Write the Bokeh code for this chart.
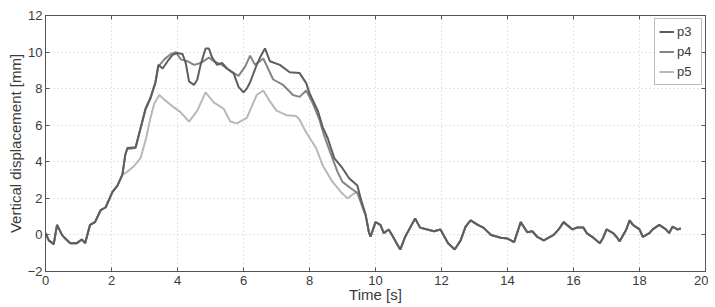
from bokeh.plotting import figure
from bokeh.models import LinearAxis, FixedTicker, Legend, LegendItem, CustomJSTickFormatter, Range1d
from bokeh.embed import file_html
from bokeh.resources import INLINE

# ---- data ----
head_t = [0.0, 0.1, 0.25, 0.35, 0.5, 0.6, 0.75, 0.95, 1.1, 1.2, 1.35, 1.5, 1.67, 1.82, 2.03, 2.18, 2.33]
head_v = [0.1, -0.3, -0.5, 0.55, 0.0, -0.2, -0.45, -0.45, -0.25, -0.45, 0.55, 0.7, 1.35, 1.5, 2.35, 2.7, 3.3]

tail_t = [9.8, 9.85, 10.0, 10.15, 10.25, 10.4, 10.5, 10.7, 10.75, 10.9, 11.05, 11.2, 11.35, 11.57, 11.77,
          11.97, 12.06, 12.2, 12.4, 12.58, 12.73, 12.88, 13.1, 13.27, 13.5, 13.8, 14.0, 14.2, 14.4, 14.6,
          14.75, 14.9, 15.1, 15.25, 15.4, 15.55, 15.7, 15.8, 15.97, 16.1, 16.3, 16.4, 16.6, 16.8, 16.9,
          17.0, 17.2, 17.3, 17.4, 17.6, 17.7, 17.8, 18.0, 18.1, 18.3, 18.4, 18.6, 18.8, 18.9, 19.0, 19.15, 19.25]
tail_v = [0.15, -0.1, 0.7, 0.55, 0.1, 0.3, 0.0, -0.65, -0.8, -0.1, 0.4, 0.9, 0.4, 0.3, 0.2,
          0.3, 0.0, -0.45, -0.8, -0.3, 0.45, 0.8, 0.55, 0.4, 0.0, -0.15, -0.2, -0.4, 0.7, 0.15,
          0.2, -0.1, -0.3, -0.15, 0.0, 0.3, 0.7, 0.55, 0.3, 0.4, 0.4, 0.1, -0.15, -0.45, -0.15,
          0.3, 0.1, -0.1, -0.35, 0.3, 0.8, 0.55, 0.3, -0.1, 0.1, 0.3, 0.55, 0.3, 0.1, 0.45, 0.3, 0.35]

p3_t = [2.42, 2.48, 2.73, 2.88, 3.03, 3.18, 3.33, 3.42, 3.55, 3.7, 3.85, 4.0, 4.15, 4.25, 4.35, 4.5, 4.6,
        4.7, 4.85, 4.95, 5.05, 5.2, 5.35, 5.5, 5.7, 5.85, 6.0, 6.1, 6.2, 6.4, 6.5, 6.65, 6.8, 7.1, 7.4,
        7.7, 7.9, 8.0, 8.25, 8.4, 8.55, 8.75, 9.0, 9.2, 9.45, 9.55, 9.7]
p3_v = [4.4, 4.75, 4.8, 5.85, 6.9, 7.5, 8.35, 9.3, 9.1, 9.5, 9.85, 9.95, 9.9, 9.4, 8.4, 8.2, 8.5,
        9.3, 10.2, 10.2, 9.7, 9.3, 9.4, 9.1, 8.85, 8.1, 7.8, 8.0, 8.35, 9.3, 9.7, 10.2, 9.5, 9.3, 8.9,
        8.85, 8.3, 7.75, 6.8, 5.9, 5.3, 4.2, 3.65, 3.1, 2.7, 2.0, 1.1]

p4_t = [2.42, 2.48, 2.73, 2.88, 3.03, 3.18, 3.33, 3.42, 3.6, 3.8, 3.95, 4.1, 4.3, 4.5, 4.7, 4.95, 5.1,
        5.35, 5.65, 5.85, 6.05, 6.2, 6.35, 6.6, 6.9, 7.2, 7.5, 7.7, 7.9, 8.1, 8.3, 8.45, 8.65, 8.85,
        9.0, 9.25, 9.45, 9.6, 9.7]
p4_v = [4.4, 4.7, 4.75, 5.8, 6.85, 7.45, 8.3, 9.2, 9.6, 9.9, 10.0, 9.6, 9.5, 9.3, 9.4, 9.7, 9.5,
        9.3, 8.9, 8.7, 9.2, 9.8, 9.3, 9.65, 8.5, 8.2, 7.65, 7.55, 7.9, 7.2, 6.3, 5.4, 4.4, 3.45,
        2.9, 2.55, 2.3, 1.6, 1.1]

p5_t = [2.48, 2.7, 2.88, 3.05, 3.18, 3.3, 3.45, 3.6, 3.8, 4.1, 4.35, 4.6, 4.85, 5.1, 5.4, 5.6, 5.8,
        6.1, 6.4, 6.6, 6.8, 7.0, 7.3, 7.6, 7.7, 7.9, 8.2, 8.4, 8.7, 8.95, 9.15, 9.3, 9.45, 9.6, 9.7]
p5_v = [3.45, 3.8, 4.2, 5.3, 6.4, 7.2, 7.65, 7.4, 7.1, 6.7, 6.2, 6.8, 7.8, 7.25, 6.9, 6.2, 6.1,
        6.4, 7.65, 7.9, 7.3, 6.8, 6.55, 6.5, 6.3, 5.6, 4.75, 3.8, 2.9, 2.35, 2.0, 2.2, 2.35, 1.5, 1.1]

series = ["p3", "p4", "p5"]
colors = ["#5e5e5e", "#858585", "#b8b8b8"]
x_ticks = [0, 2, 4, 6, 8, 10, 12, 14, 16, 18, 20]
y_ticks = [-2, 0, 2, 4, 6, 8, 10, 12]

FONT = "Liberation Sans"

p = figure(width=708, height=306, output_backend="svg", toolbar_location=None,
           x_range=Range1d(0, 20), y_range=Range1d(-2, 12),
           min_border_left=45, min_border_right=3, min_border_top=15, min_border_bottom=35)
p.background_fill_color = "white"
p.border_fill_color = "white"
p.outline_line_color = "#555555"
p.outline_line_width = 1

data = {
    "p3": (head_t + p3_t + tail_t, head_v + p3_v + tail_v),
    "p4": (head_t + p4_t + tail_t, head_v + p4_v + tail_v),
    "p5": (head_t + p5_t + tail_t, head_v + p5_v + tail_v),
}

renderers = {}
for name, col in reversed(list(zip(series, colors))):
    tt, vv = data[name]
    renderers[name] = p.line(tt, vv, line_color=col, line_width=2)

for ax in (p.xaxis[0], p.yaxis[0]):
    ax.major_tick_in = 4
    ax.major_tick_out = 0
    ax.minor_tick_in = 0
    ax.minor_tick_out = 0
    ax.axis_line_color = "#555555"
    ax.major_tick_line_color = "#555555"
    ax.major_label_text_font = FONT
    ax.major_label_text_font_size = "13px"
    ax.major_label_text_color = "#3a3a3a"
    ax.axis_label_text_font = FONT
    ax.axis_label_text_font_size = "15px"
    ax.axis_label_text_font_style = "normal"
    ax.axis_label_text_color = "#3a3a3a"

p.xaxis.ticker = FixedTicker(ticks=x_ticks)
p.yaxis.ticker = FixedTicker(ticks=y_ticks)
p.xaxis.axis_label = "Time [s]"
p.yaxis.axis_label = "Vertical displacement [mm]"
p.xaxis.major_label_standoff = 4
p.xaxis.axis_label_standoff = -2
p.yaxis.major_label_standoff = 3
p.yaxis.axis_label_standoff = 1

empty = CustomJSTickFormatter(code="return ''")
top = LinearAxis(ticker=FixedTicker(ticks=x_ticks), formatter=empty,
                 major_tick_in=4, major_tick_out=0, minor_tick_in=0, minor_tick_out=0,
                 axis_line_color="#555555", major_tick_line_color="#555555",
                 major_label_standoff=0, major_label_text_font_size="1px")
right = LinearAxis(ticker=FixedTicker(ticks=y_ticks), formatter=empty,
                   major_tick_in=4, major_tick_out=0, minor_tick_in=0, minor_tick_out=0,
                   axis_line_color="#555555", major_tick_line_color="#555555",
                   major_label_standoff=0, major_label_text_font_size="1px")
p.add_layout(top, "above")
p.add_layout(right, "right")

p.xgrid.ticker = FixedTicker(ticks=x_ticks)
p.ygrid.ticker = FixedTicker(ticks=y_ticks)
p.grid.grid_line_color = "#c8c8c8"
p.grid.grid_line_dash = "1 3"
p.grid.grid_line_width = 1

legend = Legend(items=[LegendItem(label=n, renderers=[renderers[n]]) for n in series],
                location="top_right")
legend.label_text_font = FONT
legend.label_text_font_size = "13px"
legend.label_text_color = "#3a3a3a"
legend.glyph_width = 15
legend.glyph_height = 17
legend.label_height = 17
legend.label_standoff = 3
legend.spacing = 3
legend.padding = 4
legend.margin = 3
legend.border_line_color = "#777777"
legend.border_line_width = 1
legend.background_fill_color = "white"
legend.background_fill_alpha = 1
p.add_layout(legend)

open("out.html", "w").write(file_html(p, INLINE))
